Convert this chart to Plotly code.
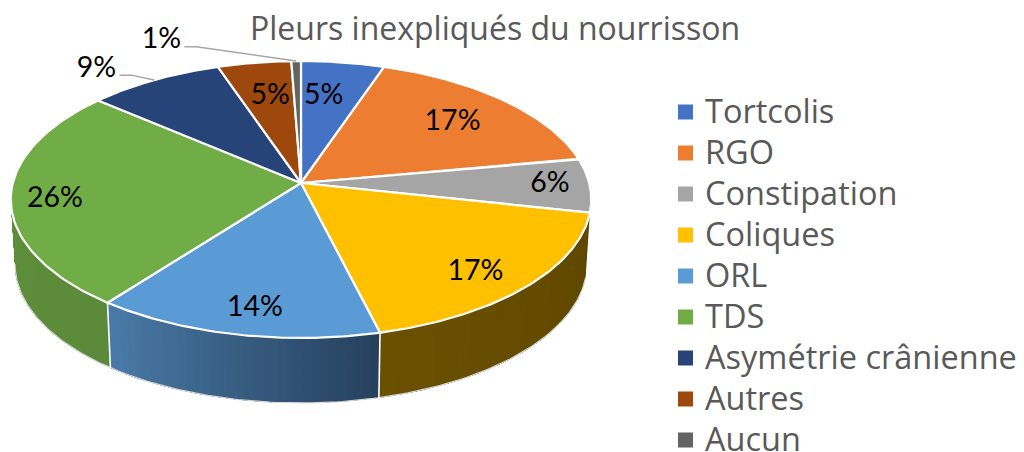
import numpy as np
import plotly.graph_objects as go

# ---- data ----
categories = ["Tortcolis", "RGO", "Constipation", "Coliques", "ORL", "TDS",
              "Asymétrie crânienne", "Autres", "Aucun"]
shares = [5.2, 16.9, 6.3, 17.7, 14.3, 25.9, 8.5, 4.6, 0.6]
pct_labels = ["5%", "17%", "6%", "17%", "14%", "26%", "9%", "5%", "1%"]
title_text = "Pleurs inexpliqués du nourrisson"

# ---- styles ----
colors = ["#4472C4", "#ED7D31", "#A5A5A5", "#FFC000", "#5B9BD5", "#70AD47",
          "#264478", "#9E480E", "#636363"]
wall_left = {3: "#6B5000", 4: "#4A7BA8", 5: "#5E8F3B"}
wall_right = {3: "#5F4700", 4: "#25405D", 5: "#5B8A3A"}
label_radius = [.705, .735, .864, .82, .83, .85, 1.227, .708, 1.326]
label_turn = [-2.4, 0, -0.9, 2.6, -1.7, -1.4, -6, 1, -23.6]

CX, CY, RX, RY, K = 301.0, 183.0, 288.2, 136.5, 0.119
DEPTH, SHRINK = 65.0, 0.985
LABEL_DY = 2
LEG_SWATCH_X, LEG_TEXT_X, LEG_Y0, LEG_STEP, LEG_TEXT_DY = 685.5, 705, 112, 41, 3


def project(theta, r=1.0):
    u, v = r * np.sin(theta), -r * np.cos(theta)
    d = 1 - K * v
    return CX + RX * u / d, CY + RY * v / d


def lower(x, y):
    return CX + (np.asarray(x) - CX) * SHRINK, np.asarray(y) + DEPTH


def hex_mix(a, b, t):
    ca = [int(a[i:i + 2], 16) for i in (1, 3, 5)]
    cb = [int(b[i:i + 2], 16) for i in (1, 3, 5)]
    return "#" + "".join(f"{round(p + (q - p) * t):02x}" for p, q in zip(ca, cb))


total = sum(shares)
edges = np.concatenate([[0], np.cumsum(shares)]) / total * 2 * np.pi
fig = go.Figure()

# side walls: the visible front part of the disc only
front_a, front_b = edges[3], 3 * np.pi / 2 - np.arctan(K)
for i in range(len(shares)):
    a, b = max(edges[i], front_a), min(edges[i + 1], front_b)
    if b <= a:
        continue
    n = max(1, int((b - a) / np.radians(1.5)))
    steps = np.linspace(a, b, n + 1)
    # painted from the far end: each piece reaches the end of the wall, so no seams
    for j in range(n):
        t = np.linspace(steps[j], b, max(3, (n - j) + 2))
        x, y = project(t)
        xl, yl = lower(x, y)
        c = hex_mix(wall_left.get(i, colors[i]), wall_right.get(i, colors[i]), 1 - (j + .5) / n)
        fig.add_trace(go.Scatter(x=list(x) + list(xl[::-1]), y=list(y) + list(yl[::-1]),
                                 fill="toself", fillcolor=c, mode="lines",
                                 line=dict(width=0), hoverinfo="skip", showlegend=False))

# thin outline under the walls and white joins between wall pieces
t = np.linspace(front_a, front_b, 200)
x, y = project(t)
xl, yl = lower(x, y)
fig.add_trace(go.Scatter(x=xl, y=yl, mode="lines", line=dict(color="#D9D9D9", width=1.2),
                         hoverinfo="skip", showlegend=False))
for e in edges:
    if front_a < e < front_b:
        x0, y0 = project(e)
        x1, y1 = lower(x0, y0)
        fig.add_trace(go.Scatter(x=[x0, x1], y=[y0, y1], mode="lines",
                                 line=dict(color="white", width=1.6),
                                 hoverinfo="skip", showlegend=False))

# top face
for i in range(len(shares)):
    t = np.linspace(edges[i], edges[i + 1], 80)
    x, y = project(t)
    fig.add_trace(go.Scatter(x=[CX] + list(x) + [CX], y=[CY] + list(y) + [CY],
                             fill="toself", fillcolor=colors[i], mode="lines",
                             line=dict(color="white", width=2.2),
                             hoverinfo="skip", showlegend=False))

# percentage labels and leader lines
lx, ly = [], []
for i, s in enumerate(shares):
    mid = (edges[i] + edges[i + 1]) / 2
    px, py = project(mid + np.radians(label_turn[i]), label_radius[i])
    lx.append(px)
    ly.append(py + LABEL_DY)
    if label_radius[i] > 1:
        rx, ry = project(mid)
        fig.add_trace(go.Scatter(x=[px + 23, px + 35, rx], y=[py + 7.5, py + 7.5, ry], mode="lines",
                                 line=dict(color="#A6A6A6", width=1.5),
                                 hoverinfo="skip", showlegend=False))
fig.add_trace(go.Scatter(x=lx, y=ly, mode="text", text=pct_labels,
                         textfont=dict(family="Lato", size=28.5, color="black"),
                         textposition="middle center", hoverinfo="skip", showlegend=False))

# legend, drawn on the chart so that its rows keep the reference's spacing
rows = [LEG_Y0 + LEG_STEP * i for i in range(len(categories))]
fig.add_trace(go.Scatter(x=[LEG_SWATCH_X] * len(rows), y=rows, mode="markers",
                         marker=dict(symbol="square", size=15, color=colors, line=dict(width=0)),
                         hovertext=categories, hoverinfo="text", showlegend=False))
fig.add_trace(go.Scatter(x=[LEG_TEXT_X] * len(rows), y=[r + LEG_TEXT_DY for r in rows],
                         mode="text", text=categories,
                         textposition="middle right", cliponaxis=False,
                         textfont=dict(family="Open Sans", size=32.5, color="#595959"),
                         hoverinfo="skip", showlegend=False))

fig.update_layout(
    width=1024, height=452, margin=dict(l=0, r=0, t=0, b=0),
    paper_bgcolor="white", plot_bgcolor="white", showlegend=False,
    xaxis=dict(range=[0, 1024], visible=False, fixedrange=True),
    yaxis=dict(range=[452, 0], visible=False, fixedrange=True),
    annotations=[dict(text=title_text, x=495, y=27, xref="x", yref="y", showarrow=False,
                      font=dict(family="Open Sans", size=32, color="#595959"))],
)
fig.write_html("out.html", config=dict(displayModeBar=False),
               post_script="document.body.style.margin='0';document.body.style.overflow='hidden';")
